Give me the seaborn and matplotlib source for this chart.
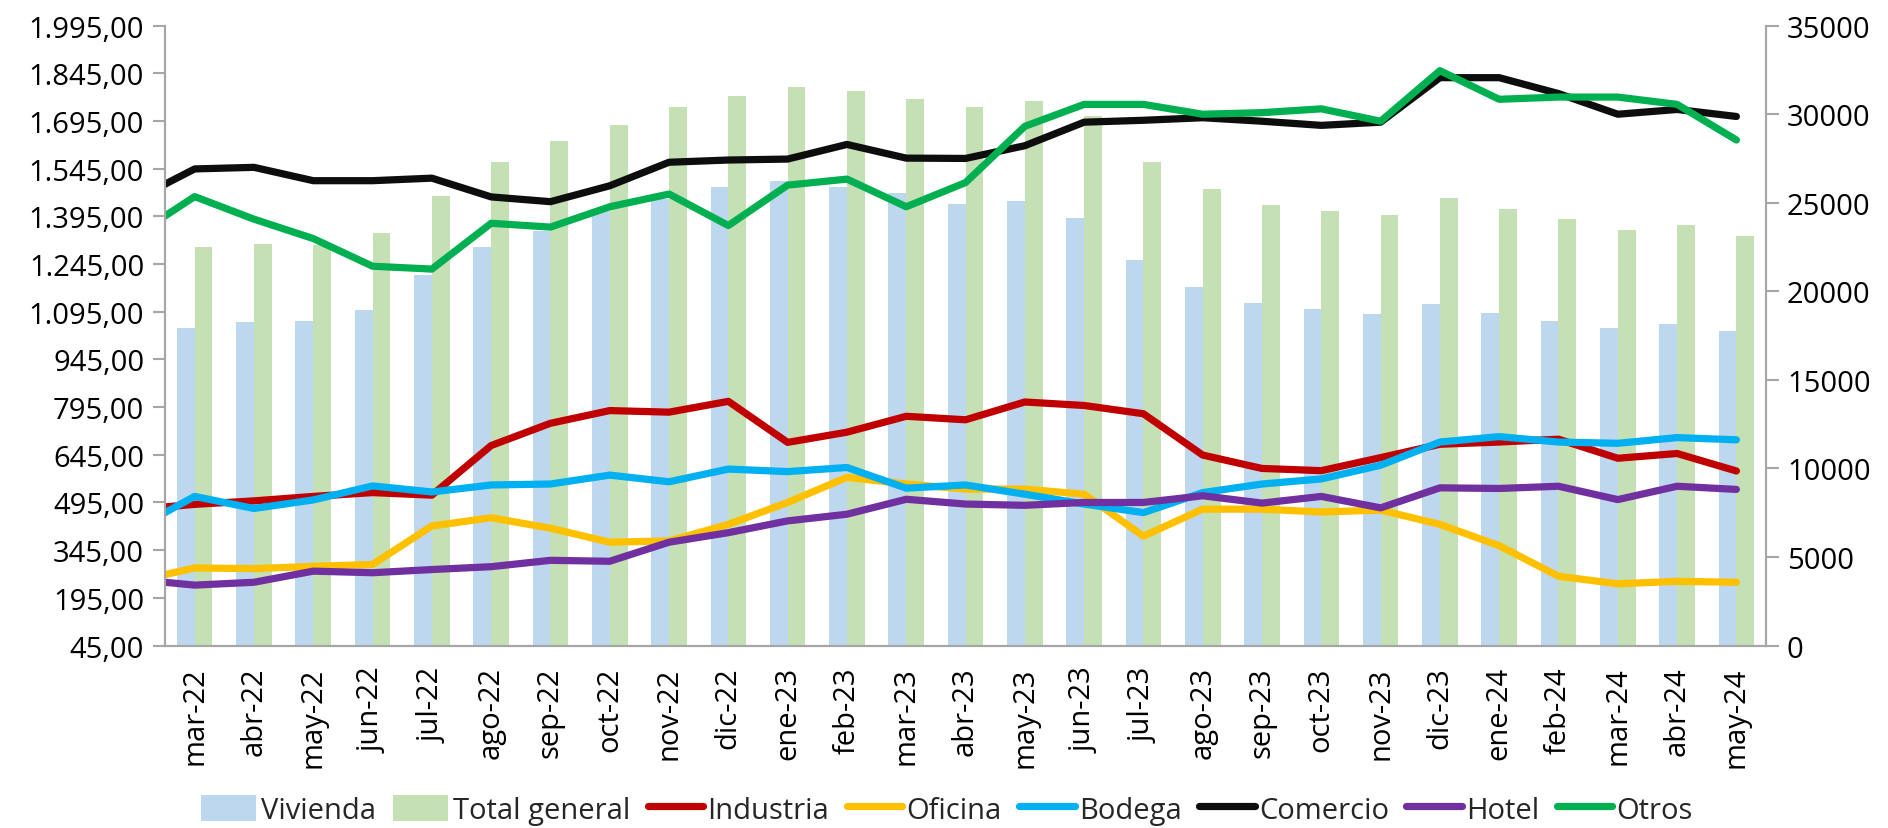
import numpy as np
import pandas as pd
import matplotlib
matplotlib.use("Agg")
import matplotlib.pyplot as plt
from matplotlib.lines import Line2D
from matplotlib.patches import Patch
from matplotlib.ticker import FixedLocator, FuncFormatter
import seaborn as sns

# ---------------- data ----------------
months = ["mar-22", "abr-22", "may-22", "jun-22", "jul-22", "ago-22", "sep-22", "oct-22",
          "nov-22", "dic-22", "ene-23", "feb-23", "mar-23", "abr-23", "may-23", "jun-23",
          "jul-23", "ago-23", "sep-23", "oct-23", "nov-23", "dic-23", "ene-24", "feb-24",
          "mar-24", "abr-24", "may-24"]
# previous month (feb-22) is part of the line series; the axis starts at mar-22
line_months = ["feb-22"] + months

# bars (right axis)
vivienda = [17913, 18254, 18308, 18918, 20893, 22472, 23405, 24536, 25200, 25865, 26241,
            25865, 25523, 24949, 25093, 24123, 21754, 20229, 19331, 18990, 18721, 19277,
            18757, 18344, 17931, 18128, 17734]
total_general = [22472, 22688, 22616, 23298, 25380, 27282, 28467, 29383, 30405, 31016, 31536,
                 31321, 30854, 30388, 30747, 29885, 27318, 25793, 24841, 24554, 24321, 25290,
                 24662, 24105, 23477, 23764, 23136]

# lines (left axis), first value = feb-22
industria = [473, 489, 500, 514, 526, 518, 674, 744, 784, 779, 813, 684, 716, 766, 755, 811,
             800, 774, 644, 602, 595, 636, 678, 685, 694, 634, 649, 594]
oficina = [247, 289, 287, 294, 300, 421, 447, 414, 370, 374, 426, 495, 574, 553, 537, 537,
           521, 389, 474, 474, 465, 471, 426, 359, 263, 239, 247, 244]
bodega = [412, 514, 476, 503, 547, 528, 550, 553, 581, 560, 600, 592, 605, 540, 550, 521,
          490, 463, 526, 553, 569, 612, 685, 702, 685, 681, 699, 692]
comercio = [1448, 1544, 1549, 1507, 1507, 1515, 1456, 1441, 1491, 1565, 1572, 1575, 1621, 1578,
            1577, 1617, 1691, 1697, 1705, 1694, 1681, 1691, 1831, 1831, 1781, 1716, 1731, 1709]
hotel = [253, 235, 244, 279, 274, 284, 293, 313, 310, 370, 400, 437, 458, 505, 490, 486,
         495, 495, 516, 493, 514, 478, 541, 539, 546, 504, 546, 536]
otros = [1335, 1457, 1386, 1325, 1238, 1229, 1373, 1361, 1425, 1465, 1366, 1493, 1512, 1425,
         1501, 1678, 1747, 1747, 1716, 1721, 1733, 1694, 1853, 1763, 1770, 1770, 1747, 1635]

left_ticks = list(range(45, 1996, 150))
right_ticks = list(range(0, 35001, 5000))

# ---------------- style ----------------
sns.set_theme(style="white")
plt.rcParams["font.family"] = ["Open Sans", "DejaVu Sans"]
FS = 21
LW = 5.2

fig = plt.figure(figsize=(18.88, 8.29), dpi=100)
ax = fig.add_axes([0.0874, 0.2201, 0.8480, 0.7479])
axr = ax.twinx()

# bars on the right axis, drawn beneath the lines
bars_df = pd.DataFrame({
    "mes": months * 2,
    "serie": ["Vivienda"] * len(months) + ["Total general"] * len(months),
    "valor": vivienda + total_general,
})
bar_colors = {"Vivienda": "#BDD7EE", "Total general": "#C5E0B4"}
sns.barplot(data=bars_df, x="mes", y="valor", hue="serie", order=months,
            hue_order=["Vivienda", "Total general"], palette=bar_colors,
            width=0.6, gap=0, saturation=1, legend=False, ax=axr, linewidth=0)

axr.set_zorder(1)
ax.set_zorder(2)
ax.patch.set_visible(False)

# lines on the left axis
series = [("Industria", industria, "#C00000"),
          ("Oficina", oficina, "#FFC000"),
          ("Bodega", bodega, "#00B0F0"),
          ("Comercio", comercio, "#0D0D0D"),
          ("Hotel", hotel, "#7030A0"),
          ("Otros", otros, "#00B050")]
xpos = np.arange(len(line_months)) - 1
for name, vals, col in series:
    sns.lineplot(x=xpos, y=vals, color=col, linewidth=LW, ax=ax,
                 solid_capstyle="round", solid_joinstyle="round", legend=False)

# ---------------- axes ----------------
ax.set_xlim(-0.5, len(months) - 0.5)
axr.set_xlim(-0.5, len(months) - 0.5)
ax.set_ylim(45, 1995)
axr.set_ylim(0, 35000)

def es_fmt(v, pos):
    s = f"{v:,.2f}"
    return s.replace(",", "X").replace(".", ",").replace("X", ".")

ax.yaxis.set_major_locator(FixedLocator(left_ticks))
ax.yaxis.set_major_formatter(FuncFormatter(es_fmt))
axr.yaxis.set_major_locator(FixedLocator(right_ticks))
axr.yaxis.set_major_formatter(FuncFormatter(lambda v, p: f"{int(v)}"))

ax.set_xticks(np.arange(len(months)))
ax.set_xticklabels(months, rotation=90)
ax.set_xticks(np.arange(len(months) + 1) - 0.5, minor=True)
ax.tick_params(axis="x", which="major", length=0, pad=15, labelsize=FS, colors="#000000")
ax.tick_params(axis="x", which="minor", length=11, width=1.5, color="#A6A6A6", direction="out")
ax.tick_params(axis="y", length=9, width=1.5, color="#A6A6A6", labelsize=FS, pad=6,
               direction="out", left=True, labelcolor="#000000")
axr.tick_params(axis="y", length=9, width=1.5, color="#A6A6A6", labelsize=FS, pad=6,
                direction="out", right=True, labelcolor="#000000")
axr.tick_params(axis="x", bottom=False, labelbottom=False)
ax.set_xlabel("")
ax.set_ylabel("")
axr.set_xlabel("")
axr.set_ylabel("")

for a in (ax, axr):
    a.spines["top"].set_visible(False)
    for s in ["left", "right", "bottom"]:
        a.spines[s].set_color("#A6A6A6")
        a.spines[s].set_linewidth(1.5)

# ---------------- legend ----------------
handles = [Patch(facecolor=bar_colors["Vivienda"], edgecolor="none", label="Vivienda"),
           Patch(facecolor=bar_colors["Total general"], edgecolor="none", label="Total general")]
for name, vals, col in series:
    handles.append(Line2D([0], [0], color=col, linewidth=LW, solid_capstyle="round", label=name))
fig.legend(handles=handles, loc="center", bbox_to_anchor=(0.5015, 0.022), ncol=8,
           frameon=False, fontsize=FS, handlelength=1.9, handleheight=1.0,
           handletextpad=0.15, columnspacing=0.6, borderaxespad=0)

fig.savefig("out.png", dpi=100)
